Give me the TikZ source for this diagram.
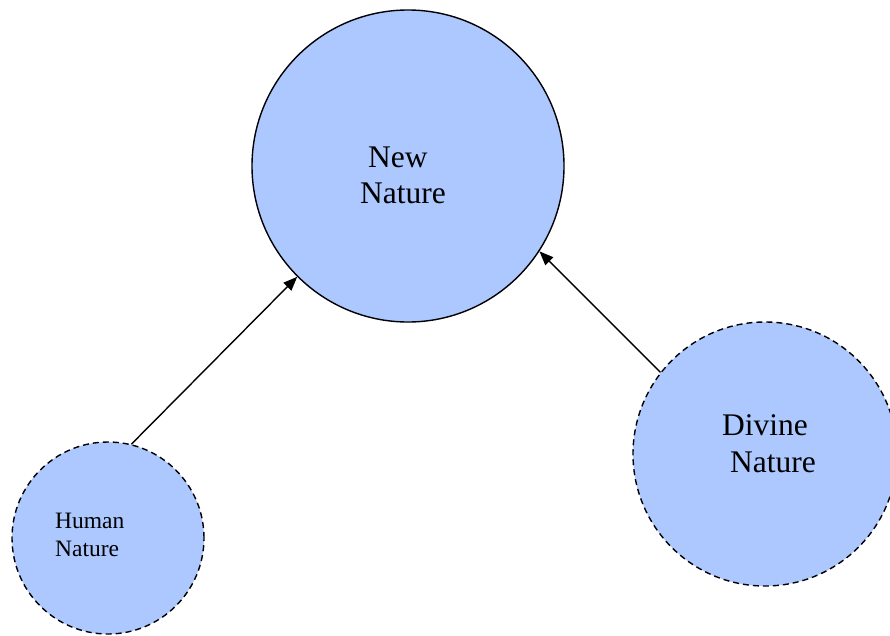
\documentclass[tikz,border=0pt]{standalone}
\usepackage{fontspec}
\setmainfont{Liberation Serif}
\usetikzlibrary{arrows.meta}
\definecolor{natfill}{RGB}{173,200,255}
\tikzset{
  natcircle/.style={circle, fill=natfill, draw=black, line width=1.4pt, inner sep=0pt},
  dashcircle/.style={natcircle, dash pattern=on 6pt off 4pt},
  bigtxt/.style={anchor=base west, inner sep=0pt, font=\fontsize{31.5}{35}\selectfont},
  smalltxt/.style={anchor=base west, inner sep=0pt, font=\fontsize{23.5}{27}\selectfont},
  conn/.style={line width=1.4pt, -{Triangle[length=14pt,width=11pt]}}
}
\begin{document}
\begin{tikzpicture}[x=1pt,y=-1pt]
\useasboundingbox (0,0) rectangle (890,635);
\node[natcircle, minimum size=312pt] (new) at (408,166) {};
\node[dashcircle, minimum size=192pt] (human) at (108,538) {};
\node[dashcircle, minimum size=264pt] (divine) at (765,454) {};
\node[bigtxt] (t1) at (368,167) {New};
\node[bigtxt] (t2) at (360,203) {Nature};
\node[bigtxt] (t3) at (722,435) {Divine};
\node[bigtxt] (t4) at (730,472) {Nature};
\node[smalltxt] (t5) at (55,528) {Human};
\node[smalltxt] (t6) at (55,556) {Nature};
\draw[conn] (human.76) -- (new.225);
\draw[conn] (divine.142) -- (new.-33);
\end{tikzpicture}
\end{document}
